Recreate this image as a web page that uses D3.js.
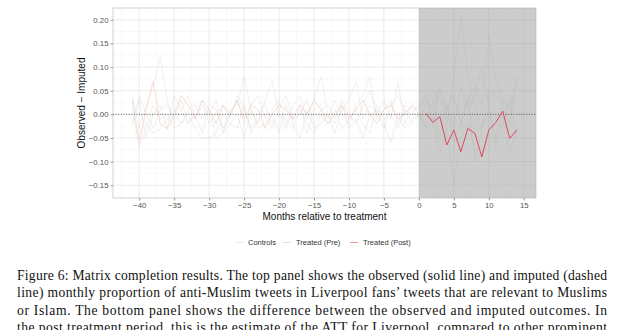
<!DOCTYPE html>
<html><head><meta charset="utf-8">
<script src="https://cdn.jsdelivr.net/npm/d3@7/dist/d3.min.js"></script>
<style>body{margin:0;background:#fff}svg{display:block}</style>
</head><body><svg id="c" width="620" height="330"></svg>
<script>
// months relative to treatment
const monthsAll = d3.range(-41, 15);      // -41..14
const monthsPre = d3.range(-41, 1);       // -41..0
const monthsPost = d3.range(1, 15);       // 1..14
const xTicks = [-40,-35,-30,-25,-20,-15,-10,-5,0,5,10,15];
const yTicks = [-0.15,-0.10,-0.05,0.00,0.05,0.10,0.15,0.20];

// control units (months -41..14)
const control1 = [0.04,-0.03,0.02,0.06,0.12,0.03,-0.02,0.01,0.04,-0.01,
  0.02,0.00,0.03,-0.04,0.01,0.02,0.08,0.01,-0.02,0.03,
  0.07,0.00,-0.03,0.02,0.04,-0.01,0.03,0.08,0.00,-0.02,
  0.01,0.03,0.07,-0.01,0.02,0.00,-0.03,0.02,0.04,0.01,
  0.00,0.02,
  0.03,0.01,0.06,-0.02,0.08,0.21,0.08,0.02,-0.03,0.05,0.04,0.02,-0.02,0.07];
const control2 = [-0.02,0.03,-0.05,0.00,0.02,-0.03,0.04,0.01,-0.02,0.00,
  -0.04,0.02,0.01,-0.03,0.00,0.03,-0.02,0.02,0.04,-0.01,
  0.01,0.03,-0.02,0.00,0.02,-0.04,0.01,0.02,-0.01,0.03,
  0.00,-0.02,0.02,0.04,0.08,-0.01,0.01,0.03,-0.02,0.02,
  0.01,-0.01,
  0.02,0.05,0.03,0.01,0.04,-0.02,0.03,0.06,0.02,0.165,0.07,0.03,0.01,0.08];
const control3 = [0.01,-0.07,-0.03,0.02,-0.01,0.00,-0.03,-0.02,0.01,0.02,
  -0.01,0.01,-0.05,-0.04,-0.02,0.00,-0.05,0.01,-0.03,-0.02,
  0.00,-0.04,0.02,-0.02,-0.05,0.01,-0.03,-0.02,0.00,-0.04,
  0.02,-0.03,-0.01,-0.05,0.00,0.01,-0.02,-0.06,0.00,-0.03,
  -0.01,0.00,
  -0.03,-0.01,-0.08,-0.03,-0.15,-0.05,-0.02,-0.07,-0.09,-0.04,-0.06,0.00,-0.08,-0.03];
const control4 = [-0.02,0.04,0.00,-0.03,0.01,0.02,-0.01,0.03,-0.02,0.01,
  0.03,-0.02,0.00,0.02,-0.01,0.04,0.01,-0.03,0.00,0.02,
  -0.02,0.01,0.04,-0.01,0.00,0.03,-0.02,0.01,0.02,-0.01,
  0.03,0.00,-0.02,0.02,0.05,0.00,0.03,-0.01,0.07,-0.02,
  0.02,0.01,
  0.04,-0.02,0.05,0.02,-0.03,0.06,0.01,0.04,0.10,0.02,-0.05,0.03,0.04,0.02];
const control5 = [0.02,0.00,-0.02,-0.04,-0.03,-0.01,0.01,-0.02,0.00,-0.03,
  -0.05,-0.05,-0.04,0.00,-0.02,-0.03,0.02,-0.04,-0.01,0.00,
  -0.03,0.00,-0.01,-0.03,0.01,-0.02,-0.04,0.00,-0.02,0.01,
  -0.03,-0.01,0.01,-0.02,-0.04,0.02,-0.01,0.00,-0.03,0.01,
  -0.02,0.00,
  -0.02,0.03,-0.05,0.02,-0.06,-0.02,0.04,-0.10,-0.03,0.01,-0.07,-0.02,0.03,-0.05];
const controls = [control1, control2, control3, control4, control5];

// treated unit (Liverpool)
const treatedPre = [0.03,-0.06,0.01,0.07,-0.02,-0.03,0.00,0.04,0.02,-0.01,
  0.03,0.01,-0.02,0.02,0.00,0.03,-0.01,0.02,0.01,-0.03,
  0.00,0.02,0.01,-0.01,0.02,0.00,0.03,0.01,-0.02,0.00,
  0.02,-0.01,0.01,0.03,0.00,-0.02,0.01,0.02,-0.01,0.00,
  0.02,0.00];
const treatedPost = [0.002,-0.017,-0.005,-0.065,-0.033,-0.079,-0.030,-0.040,-0.090,-0.033,-0.017,0.007,-0.051,-0.033];

const legendLabels = ["Controls","Treated (Pre)","Treated (Post)"];
const captionLines = [
 "Figure 6: Matrix completion results. The top panel shows the observed (solid line) and imputed (dashed",
 "line) monthly proportion of anti-Muslim tweets in Liverpool fans\u2019 tweets that are relevant to Muslims",
 "or Islam. The bottom panel shows the difference between the observed and imputed outcomes. In",
 "the post treatment period, this is the estimate of the ATT for Liverpool, compared to other prominent"
];

const svg = d3.select("#c");
const L = 113, R = 536, T = 8, B = 198;
const x = d3.scaleLinear().domain([-43.75, 16.75]).range([L, R]);
const y = d3.scaleLinear().domain([-0.177, 0.225]).range([B, T]);
const sans = "'Liberation Sans', Arial, Helvetica, sans-serif";
const fmtMinus = s => s.replace("-", "\u2212");

// grid
const g = svg.append("g");
const minorX = d3.range(-42.5, 17, 5), minorY = d3.range(-0.175, 0.23, 0.05);
g.selectAll(".mx").data(minorX).join("line").attr("x1", d=>x(d)).attr("x2", d=>x(d)).attr("y1", T).attr("y2", B).attr("stroke", "#f2f2f2").attr("stroke-width", 0.5);
g.selectAll(".my").data(minorY).join("line").attr("y1", d=>y(d)).attr("y2", d=>y(d)).attr("x1", L).attr("x2", R).attr("stroke", "#f2f2f2").attr("stroke-width", 0.5);
g.selectAll(".gx").data(xTicks).join("line").attr("x1", d=>x(d)).attr("x2", d=>x(d)).attr("y1", T).attr("y2", B).attr("stroke", "#e6e6e6").attr("stroke-width", 0.8);
g.selectAll(".gy").data(yTicks).join("line").attr("y1", d=>y(d)).attr("y2", d=>y(d)).attr("x1", L).attr("x2", R).attr("stroke", "#e6e6e6").attr("stroke-width", 0.8);

const line = d3.line().x(d=>x(d[0])).y(d=>y(d[1]));
const cCol = "#cccccc", preCol = "#f4d0c3", postCol = "#de4a5c";

// controls
svg.append("g").selectAll("path").data(controls).join("path")
  .attr("d", s => line(monthsAll.map((m,i)=>[m, s[i]])))
  .attr("fill", "none").attr("stroke", cCol).attr("stroke-opacity", 0.5).attr("stroke-width", 0.6);
// treated pre
svg.append("path").attr("d", line(monthsPre.map((m,i)=>[m, treatedPre[i]])))
  .attr("fill", "none").attr("stroke", preCol).attr("stroke-width", 0.7);

// post-treatment shading
svg.append("rect").attr("x", x(0)).attr("y", T).attr("width", R - x(0)).attr("height", B - T)
  .attr("fill", "#9a9a9a").attr("fill-opacity", 0.5);

// zero line
svg.append("line").attr("x1", L).attr("x2", R).attr("y1", y(0)).attr("y2", y(0))
  .attr("stroke", "#444").attr("stroke-width", 0.8).attr("stroke-dasharray", "1,1.6");

// treated post
svg.append("path").attr("d", line(monthsPost.map((m,i)=>[m, treatedPost[i]])))
  .attr("fill", "none").attr("stroke", postCol).attr("stroke-width", 1);

// panel border
svg.append("rect").attr("x", L).attr("y", T).attr("width", R-L).attr("height", B-T)
  .attr("fill", "none").attr("stroke", "#b5b5b5").attr("stroke-width", 0.6);

// axes
const xAxis = svg.append("g").attr("transform", `translate(0,${B})`)
  .call(d3.axisBottom(x).tickValues(xTicks).tickSize(2.5).tickPadding(2).tickFormat(d=>fmtMinus(String(d))));
const yAxis = svg.append("g").attr("transform", `translate(${L},0)`)
  .call(d3.axisLeft(y).tickValues(yTicks).tickSize(2.5).tickPadding(2).tickFormat(d=>fmtMinus(d3.format(".2f")(d))));
[xAxis, yAxis].forEach(a => {
  a.select(".domain").remove();
  a.selectAll(".tick line").attr("stroke", "#555").attr("stroke-width", 0.6);
  a.selectAll(".tick text").attr("fill", "#555").attr("font-family", sans).attr("font-size", 7.8);
});

svg.append("text").attr("x", (L+R)/2).attr("y", 219.5).attr("text-anchor", "middle")
  .attr("font-family", sans).attr("font-size", 10).attr("fill", "#111").text("Months relative to treatment");
svg.append("text").attr("transform", `translate(85,${(T+B)/2}) rotate(-90)`).attr("text-anchor", "middle")
  .attr("font-family", sans).attr("font-size", 10).attr("fill", "#111").text("Observed \u2212 Imputed");

// legend
const legX = [235, 283, 350];
const legStyles = [{c:"#e6e6e6"},{c:"#d9d9d9"},{c:"#e88a95"}];
const leg = svg.append("g").selectAll("g").data(legendLabels).join("g")
  .attr("transform", (d,i)=>`translate(${legX[i]},242.5)`);
leg.append("line").attr("x1", 0).attr("x2", 8).attr("stroke", (d,i)=>legStyles[i].c).attr("stroke-width", 0.9);
leg.append("text").attr("x", 13).attr("y", 2.6).attr("font-family", sans).attr("font-size", 7.5)
  .attr("fill", "#333").text(d=>d);

// caption
svg.append("g").selectAll("text").data(captionLines).join("text")
  .attr("x", 17).attr("y", (d,i)=>279.5 + i*17.6)
  .attr("font-family", "'Liberation Serif', 'Times New Roman', serif").attr("font-size", 13.6)
  .attr("fill", "#111").attr("textLength", 590).attr("lengthAdjust", "spacing").text(d=>d);
</script></body></html>
